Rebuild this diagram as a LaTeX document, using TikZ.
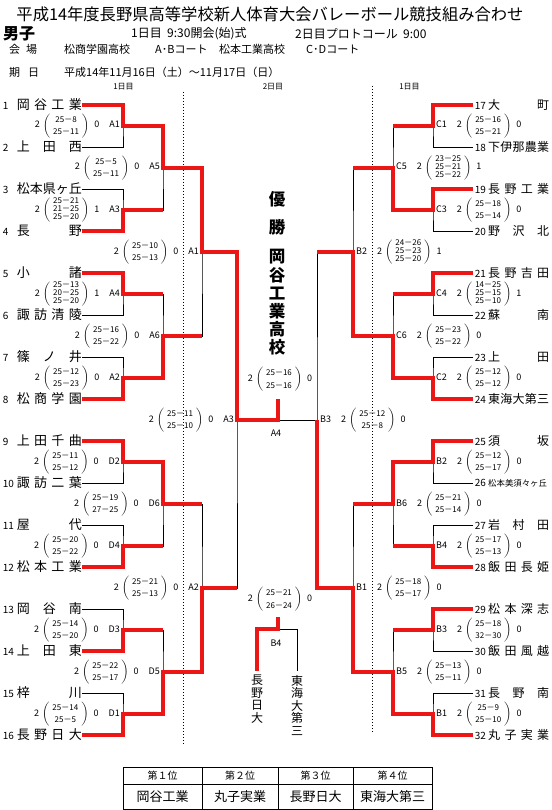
\documentclass[tikz,border=0pt]{standalone}
\usepackage{fontspec}
\setmainfont{Noto Sans CJK JP}
\usetikzlibrary{positioning}

\definecolor{winred}{RGB}{235,22,22}

% spread the letters of a school name over its box
\makeatletter
\newcommand\spread[1]{\def\spr@sep{}\@tfor\spr@c:=#1\do{\spr@sep\spr@c\def\spr@sep{\hfill}}}
\makeatother
\newcommand\lteam[2]{\makebox[14pt][l]{\fontsize{10}{10}\selectfont#1}\makebox[65pt][s]{\spread{#2}}}
\newcommand\rteam[2]{\makebox[15pt][l]{\fontsize{10}{10}\selectfont\,#1}\makebox[61pt][s]{\spread{#2}}}
\newcommand\gameset[2][12.5]{{\fontsize{8}{#1}\selectfont$\left(\begin{tabular}{@{\hspace{3pt}}c@{\hspace{3pt}}}#2\end{tabular}\right)$}}

\begin{document}
\begin{tikzpicture}[
    x=1pt, y=-1pt,
    bracket/.style={line width=0.8pt},
    win/.style={line width=3.8pt, winred},
    lteamnode/.style={anchor=east, inner sep=0pt, font=\fontsize{13}{13}\selectfont},
    rteamnode/.style={anchor=west, inner sep=0pt, font=\fontsize{12}{12}\selectfont},
    score/.style={inner sep=0pt, font=\fontsize{9}{9}\selectfont},
    dayline/.style={line width=0.7pt, dash pattern=on 0.8pt off 2.2pt},
    info/.style={anchor=west, inner sep=0pt, font=\fontsize{11}{11}\selectfont},
    dayhead/.style={inner sep=0pt, font=\fontsize{8}{8}\selectfont},
    champ/.style={align=center, inner sep=0pt, font=\bfseries\fontsize{16.5}{18.2}\selectfont},
    vname/.style={anchor=north, align=center, inner xsep=0pt, inner ysep=4pt, font=\fontsize{12}{12.5}\selectfont},
    rankhead/.style={inner sep=0pt, font=\fontsize{10}{10}\selectfont},
    rankname/.style={inner sep=0pt, font=\fontsize{13}{13}\selectfont}
]
\useasboundingbox (0,0) rectangle (551,810);

% Header
\node[font=\fontsize{16.3}{16.3}\selectfont, inner sep=0pt] (title) at (270,14)
    {平成14年度長野県高等学校新人体育大会バレーボール競技組み合わせ};
\node[anchor=west, inner sep=0pt, font=\bfseries\fontsize{16}{16}\selectfont] (boys) at (3,34) {男子};
\node[info, font=\fontsize{12}{12}\selectfont] (day1) at (131,34) {1日目\ \ 9:30開会(始)式};
\node[info, font=\fontsize{12}{12}\selectfont] (day2) at (295,34) {2日目プロトコール\ \ 9:00};
\node[info] (venue)  at (9,49)   {\makebox[28pt][s]{会\hfill 場}};
\node[info] (hallA)  at (64,49)  {松商学園高校};
\node[info] (courtA) at (155,49) {A･Bコート};
\node[info] (hallC)  at (219,49) {松本工業高校};
\node[info] (courtC) at (306,49) {C･Dコート};
\node[info] (date)   at (9,72)   {\makebox[30pt][s]{期\hfill 日}};
\node[info] (dates)  at (64,72)  {平成14年11月16日（土）～11月17日（日）};
\node[dayhead] (dayL) at (123.5,87) {1日目};
\node[dayhead] (dayM) at (273,87)   {2日目};
\node[dayhead] (dayR) at (409.5,87) {1日目};

% Day borders
\draw[dayline] (183,92) -- (183,745);
\draw[dayline] (372,86) -- (372,733);

% Junctions, left half
\coordinate (la1) at (123,126); \coordinate (la2) at (123,210);
\coordinate (la3) at (123,294); \coordinate (la4) at (123,378);
\coordinate (la5) at (123,462); \coordinate (la6) at (123,546);
\coordinate (la7) at (123,630); \coordinate (la8) at (123,714);
\coordinate (lb1) at (163,168); \coordinate (lb2) at (163,336);
\coordinate (lb3) at (163,504); \coordinate (lb4) at (163,672);
\coordinate (lc1) at (202,252); \coordinate (lc2) at (202,588);
\coordinate (ld)  at (237,420);
% Junctions, right half
\coordinate (ra1) at (433,126); \coordinate (ra2) at (433,210);
\coordinate (ra3) at (433,294); \coordinate (ra4) at (433,378);
\coordinate (ra5) at (433,462); \coordinate (ra6) at (433,546);
\coordinate (ra7) at (433,630); \coordinate (ra8) at (433,714);
\coordinate (rb1) at (393,168); \coordinate (rb2) at (393,336);
\coordinate (rb3) at (393,504); \coordinate (rb4) at (393,672);
\coordinate (rc1) at (353,252); \coordinate (rc2) at (353,588);
\coordinate (rd)  at (317,420);
% Final and third place
\coordinate (cup)   at (278,399);
\coordinate (b4top) at (278,617);
\coordinate (b4)    at (278,629);

% Teams, left
\node[lteamnode] (t1)  at (82,105) {\lteam{1}{岡谷工業}};
\node[lteamnode] (t2)  at (82,147) {\lteam{2}{上田西}};
\node[lteamnode] (t3)  at (82,189) {\lteam{3}{松本県ヶ丘}};
\node[lteamnode] (t4)  at (82,231) {\lteam{4}{長野}};
\node[lteamnode] (t5)  at (82,273) {\lteam{5}{小諸}};
\node[lteamnode] (t6)  at (82,315) {\lteam{6}{諏訪清陵}};
\node[lteamnode] (t7)  at (82,357) {\lteam{7}{篠ノ井}};
\node[lteamnode] (t8)  at (82,399) {\lteam{8}{松商学園}};
\node[lteamnode] (t9)  at (82,441) {\lteam{9}{上田千曲}};
\node[lteamnode] (t10) at (82,483) {\lteam{10}{諏訪二葉}};
\node[lteamnode] (t11) at (82,525) {\lteam{11}{屋代}};
\node[lteamnode] (t12) at (82,567) {\lteam{12}{松本工業}};
\node[lteamnode] (t13) at (82,609) {\lteam{13}{岡谷南}};
\node[lteamnode] (t14) at (82,651) {\lteam{14}{上田東}};
\node[lteamnode] (t15) at (82,693) {\lteam{15}{梓川}};
\node[lteamnode] (t16) at (82,735) {\lteam{16}{長野日大}};

% Teams, right
\node[rteamnode] (t17) at (473,105) {\rteam{17}{大町}};
\node[rteamnode] (t18) at (473,147) {\rteam{18}{下伊那農業}};
\node[rteamnode] (t19) at (473,189) {\rteam{19}{長野工業}};
\node[rteamnode] (t20) at (473,231) {\rteam{20}{野沢北}};
\node[rteamnode] (t21) at (473,273) {\rteam{21}{長野吉田}};
\node[rteamnode] (t22) at (473,315) {\rteam{22}{蘇南}};
\node[rteamnode] (t23) at (473,357) {\rteam{23}{上田}};
\node[rteamnode] (t24) at (473,399) {\rteam{24}{東海大第三}};
\node[rteamnode] (t25) at (473,441) {\rteam{25}{須坂}};
\node[rteamnode] (t26) at (473,483)
    {\makebox[15pt][l]{\fontsize{10}{10}\selectfont\,26}\makebox[61pt][l]{\fontsize{8.4}{8.4}\selectfont 松本美須々ヶ丘}};
\node[rteamnode] (t27) at (473,525) {\rteam{27}{岩村田}};
\node[rteamnode] (t28) at (473,567) {\rteam{28}{飯田長姫}};
\node[rteamnode] (t29) at (473,609) {\rteam{29}{松本深志}};
\node[rteamnode] (t30) at (473,651) {\rteam{30}{飯田風越}};
\node[rteamnode] (t31) at (473,693) {\rteam{31}{長野南}};
\node[rteamnode] (t32) at (473,735) {\rteam{32}{丸子実業}};

% Third place teams
\node[vname] (n3) at (257,671) {長\\野\\日\\大};
\node[vname] (n4) at (297,671) {東\\海\\大\\第\\三};

% Bracket, left
\draw[bracket] (t1.east)  -| (la1) |- (t2.east);
\draw[bracket] (t3.east)  -| (la2) |- (t4.east);
\draw[bracket] (t5.east)  -| (la3) |- (t6.east);
\draw[bracket] (t7.east)  -| (la4) |- (t8.east);
\draw[bracket] (t9.east)  -| (la5) |- (t10.east);
\draw[bracket] (t11.east) -| (la6) |- (t12.east);
\draw[bracket] (t13.east) -| (la7) |- (t14.east);
\draw[bracket] (t15.east) -| (la8) |- (t16.east);
\draw[bracket] (la1) -| (lb1) |- (la2);
\draw[bracket] (la3) -| (lb2) |- (la4);
\draw[bracket] (la5) -| (lb3) |- (la6);
\draw[bracket] (la7) -| (lb4) |- (la8);
\draw[bracket] (lb1) -| (lc1) |- (lb2);
\draw[bracket] (lb3) -| (lc2) |- (lb4);
\draw[bracket] (lc1) -| (ld) |- (lc2);
\draw[bracket] (ld) -- (rd);

% Bracket, right
\draw[bracket] (t17.west) -| (ra1) |- (t18.west);
\draw[bracket] (t19.west) -| (ra2) |- (t20.west);
\draw[bracket] (t21.west) -| (ra3) |- (t22.west);
\draw[bracket] (t23.west) -| (ra4) |- (t24.west);
\draw[bracket] (t25.west) -| (ra5) |- (t26.west);
\draw[bracket] (t27.west) -| (ra6) |- (t28.west);
\draw[bracket] (t29.west) -| (ra7) |- (t30.west);
\draw[bracket] (t31.west) -| (ra8) |- (t32.west);
\draw[bracket] (ra1) -| (rb1) |- (ra2);
\draw[bracket] (ra3) -| (rb2) |- (ra4);
\draw[bracket] (ra5) -| (rb3) |- (ra6);
\draw[bracket] (ra7) -| (rb4) |- (ra8);
\draw[bracket] (rb1) -| (rc1) |- (rb2);
\draw[bracket] (rb3) -| (rc2) |- (rb4);
\draw[bracket] (rc1) -| (rd) |- (rc2);

% Third place bracket
\draw[bracket] (b4) -| (n4.north);

% Winners, left
\draw[win] (t1.east)  -| (la1) -| (lb1) -| (lc1) -| (ld) -| (cup);
\draw[win] (t4.east)  -| (la2) -- (la2 -| lb1);
\draw[win] (t5.east)  -| (la3) -- (la3 -| lb2);
\draw[win] (t8.east)  -| (la4) -| (lb2) -- (lb2 -| lc1);
\draw[win] (t9.east)  -| (la5) -| (lb3) -- (lb3 -| lc2);
\draw[win] (t12.east) -| (la6) -- (la6 -| lb3);
\draw[win] (t14.east) -| (la7) -- (la7 -| lb4);
\draw[win] (t16.east) -| (la8) -| (lb4) -| (lc2) -- (lc2 -| ld);

% Winners, right
\draw[win] (t17.west) -| (ra1) -- (ra1 -| rb1);
\draw[win] (t19.west) -| (ra2) -| (rb1) -- (rb1 -| rc1);
\draw[win] (t21.west) -| (ra3) -- (ra3 -| rb2);
\draw[win] (t24.west) -| (ra4) -| (rb2) -| (rc1) -- (rc1 -| rd);
\draw[win] (t25.west) -| (ra5) -| (rb3) -- (rb3 -| rc2);
\draw[win] (t28.west) -| (ra6) -- (ra6 -| rb3);
\draw[win] (t29.west) -| (ra7) -- (ra7 -| rb4);
\draw[win] (t32.west) -| (ra8) -| (rb4) -| (rc2) -| (rd);

% Third place winner
\draw[win] (b4top) -- (b4) -| (n3.north);

% Scores, left
\node[score, left=3pt of la1] (sla1) {2\hspace{3pt}\gameset{25－8\\25－11}\hspace{5pt}0\hspace{10pt}A1};
\node[score, left=3pt of la2] (sla2) {2\hspace{3pt}\gameset[7.9]{25－21\\21－25\\25－20}\hspace{5pt}1\hspace{10pt}A3};
\node[score, left=3pt of la3] (sla3) {2\hspace{3pt}\gameset[7.9]{25－13\\20－25\\25－20}\hspace{5pt}1\hspace{10pt}A4};
\node[score, left=3pt of la4] (sla4) {2\hspace{3pt}\gameset{25－12\\25－23}\hspace{5pt}0\hspace{10pt}A2};
\node[score, left=3pt of la5] (sla5) {2\hspace{3pt}\gameset{25－11\\25－12}\hspace{5pt}0\hspace{10pt}D2};
\node[score, left=3pt of la6] (sla6) {2\hspace{3pt}\gameset{25－20\\25－22}\hspace{5pt}0\hspace{10pt}D4};
\node[score, left=3pt of la7] (sla7) {2\hspace{3pt}\gameset{25－14\\25－20}\hspace{5pt}0\hspace{10pt}D3};
\node[score, left=3pt of la8] (sla8) {2\hspace{3pt}\gameset{25－14\\25－5}\hspace{5pt}0\hspace{10pt}D1};
\node[score, left=3pt of lb1] (slb1) {2\hspace{3pt}\gameset{25－5\\25－11}\hspace{5pt}0\hspace{10pt}A5};
\node[score, left=3pt of lb2] (slb2) {2\hspace{3pt}\gameset{25－16\\25－22}\hspace{5pt}0\hspace{10pt}A6};
\node[score, left=3pt of lb3] (slb3) {2\hspace{3pt}\gameset{25－19\\27－25}\hspace{5pt}0\hspace{10pt}D6};
\node[score, left=3pt of lb4] (slb4) {2\hspace{3pt}\gameset{25－22\\25－17}\hspace{5pt}0\hspace{10pt}D5};
\node[score, left=3pt of lc1] (slc1) {2\hspace{3pt}\gameset{25－10\\25－13}\hspace{5pt}0\hspace{10pt}A1};
\node[score, left=3pt of lc2] (slc2) {2\hspace{3pt}\gameset{25－21\\25－13}\hspace{5pt}0\hspace{10pt}A2};
\node[score, left=3pt of ld]  (sld)  {2\hspace{3pt}\gameset{25－11\\25－10}\hspace{5pt}0\hspace{10pt}A3};

% Scores, right
\node[score, right=3pt of ra1] (sra1) {C1\hspace{10pt}2\hspace{3pt}\gameset{25－16\\25－21}\hspace{5pt}0};
\node[score, right=3pt of ra2] (sra2) {C3\hspace{10pt}2\hspace{3pt}\gameset{25－18\\25－14}\hspace{5pt}0};
\node[score, right=3pt of ra3] (sra3) {C4\hspace{10pt}2\hspace{3pt}\gameset[7.9]{14－25\\25－15\\25－10}\hspace{5pt}1};
\node[score, right=3pt of ra4] (sra4) {C2\hspace{10pt}2\hspace{3pt}\gameset{25－12\\25－12}\hspace{5pt}0};
\node[score, right=3pt of ra5] (sra5) {B2\hspace{10pt}2\hspace{3pt}\gameset{25－12\\25－17}\hspace{5pt}0};
\node[score, right=3pt of ra6] (sra6) {B4\hspace{10pt}2\hspace{3pt}\gameset{25－17\\25－13}\hspace{5pt}0};
\node[score, right=3pt of ra7] (sra7) {B3\hspace{10pt}2\hspace{3pt}\gameset{25－18\\32－30}\hspace{5pt}0};
\node[score, right=3pt of ra8] (sra8) {B1\hspace{10pt}2\hspace{3pt}\gameset{25－9\\25－10}\hspace{5pt}0};
\node[score, right=3pt of rb1] (srb1) {C5\hspace{10pt}2\hspace{3pt}\gameset[7.9]{23－25\\25－21\\25－22}\hspace{5pt}1};
\node[score, right=3pt of rb2] (srb2) {C6\hspace{10pt}2\hspace{3pt}\gameset{25－23\\25－22}\hspace{5pt}0};
\node[score, right=3pt of rb3] (srb3) {B6\hspace{10pt}2\hspace{3pt}\gameset{25－21\\25－14}\hspace{5pt}0};
\node[score, right=3pt of rb4] (srb4) {B5\hspace{10pt}2\hspace{3pt}\gameset{25－13\\25－11}\hspace{5pt}0};
\node[score, right=3pt of rc1] (src1) {B2\hspace{10pt}2\hspace{3pt}\gameset[7.9]{24－26\\25－23\\25－20}\hspace{5pt}1};
\node[score, right=3pt of rc2] (src2) {B1\hspace{10pt}2\hspace{3pt}\gameset{25－18\\25－17}\hspace{5pt}0};
\node[score, right=3pt of rd]  (srd)  {B3\hspace{10pt}2\hspace{3pt}\gameset{25－12\\25－8}\hspace{5pt}0};

% Final and third place
\node[score, above=7pt of cup, xshift=2pt]   (sfin) {2\hspace{3pt}\gameset{25－16\\25－16}\hspace{5pt}0};
\node[score] (labA4) at (276,433) {A4};
\node[score, above=5pt of b4top, xshift=2pt] (sthird) {2\hspace{3pt}\gameset{25－21\\26－24}\hspace{5pt}0};
\node[score] (labB4) at (276,643) {B4};

% Champion
\node[champ, font=\bfseries\fontsize{16.5}{28}\selectfont] (champtitle) at (277,213) {優\\勝};
\node[champ] (champname) at (277,302.5) {岡\\谷\\工\\業\\高\\校};

% Final ranking table
\draw[line width=0.8pt] (123,767) rectangle (432,809);
\draw[line width=0.8pt] (123,784) -- (432,784);
\draw[line width=0.8pt] (202,767) -- (202,809);
\draw[line width=0.8pt] (278,767) -- (278,809);
\draw[line width=0.8pt] (353,767) -- (353,809);
\node[rankhead] (h1) at (162.5,775.5) {第１位};
\node[rankhead] (h2) at (240,775.5)   {第２位};
\node[rankhead] (h3) at (315.5,775.5) {第３位};
\node[rankhead] (h4) at (392.5,775.5) {第４位};
\node[rankname] (p1) at (162.5,796.5) {岡谷工業};
\node[rankname] (p2) at (240,796.5)   {丸子実業};
\node[rankname] (p3) at (315.5,796.5) {長野日大};
\node[rankname] (p4) at (392.5,796.5) {東海大第三};

\end{tikzpicture}
\end{document}
